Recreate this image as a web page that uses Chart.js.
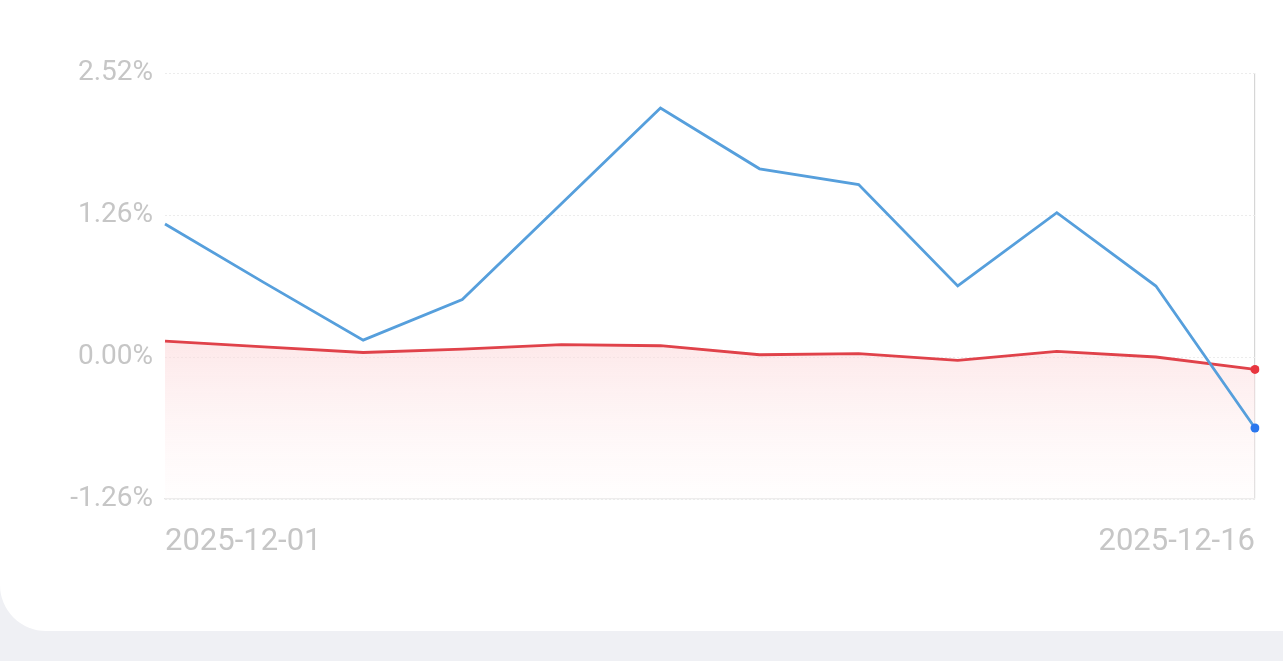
<!DOCTYPE html>
<html>
<head>
<meta charset="utf-8">
<script src="https://cdn.jsdelivr.net/npm/chart.js@4.4.1/dist/chart.umd.min.js"></script>
<style>
  html, body { margin: 0; padding: 0; background: #eff0f4; width: 1283px; height: 661px; overflow: hidden; }
  #card { position: absolute; left: 0; top: 0; width: 1283px; height: 631px; background: #ffffff; border-bottom-left-radius: 46px; }
  #wrap { position: absolute; left: 0; top: 0; width: 1283px; height: 631px; }
</style>
</head>
<body>
<div id="card"></div>
<div id="wrap"><canvas id="c" width="1283" height="631"></canvas></div>
<script>
const categories = ['2025-12-01','2025-12-02','2025-12-03','2025-12-04','2025-12-05','2025-12-08','2025-12-09','2025-12-10','2025-12-11','2025-12-12','2025-12-15','2025-12-16'];
const blueSeries = [1.18, 0.66, 0.15, 0.51, 1.36, 2.21, 1.67, 1.53, 0.63, 1.28, 0.63, -0.63];
const redSeries  = [0.14, 0.09, 0.04, 0.07, 0.11, 0.10, 0.02, 0.03, -0.03, 0.05, 0.00, -0.11];
const yTicks = [-1.26, 0, 1.26, 2.52];

const lastIdx = categories.length - 1;
const endRadius = categories.map((_, i) => i === lastIdx ? 4.5 : 0);

new Chart(document.getElementById('c'), {
  type: 'line',
  data: {
    labels: categories,
    datasets: [
      {
        label: 'blue',
        data: blueSeries,
        borderColor: '#569fdc',
        borderWidth: 2.8,
        pointRadius: endRadius,
        pointBackgroundColor: '#2a77ee',
        pointBorderWidth: 0,
        tension: 0,
        fill: false,
        order: 0
      },
      {
        label: 'red',
        data: redSeries,
        borderColor: '#e0424a',
        borderWidth: 2.8,
        pointRadius: endRadius,
        pointBackgroundColor: '#e8363f',
        pointBorderWidth: 0,
        tension: 0,
        fill: 'start',
        backgroundColor: (ctx) => {
          const ca = ctx.chart.chartArea;
          if (!ca) return 'rgba(250,220,220,0.4)';
          const g = ctx.chart.ctx.createLinearGradient(0, ca.top + (ca.bottom - ca.top) * 0.62, 0, ca.bottom);
          g.addColorStop(0, 'rgba(252,215,217,0.6)');
          g.addColorStop(1, 'rgba(255,250,250,0.3)');
          return g;
        },
        order: 1
      }
    ]
  },
  options: {
    responsive: false,
    animation: false,
    devicePixelRatio: 1,
    layout: { padding: { left: 0, right: 28, top: 73, bottom: 0 } },
    plugins: { legend: { display: false }, tooltip: { enabled: false } },
    scales: {
      x: {
        grid: {
          drawTicks: false,
          color: (ctx) => ctx.index === lastIdx ? '#d6d6d6' : 'rgba(0,0,0,0)',
          lineWidth: 1.2
        },
        border: { display: true, color: '#e6e6e6', width: 1.2 },
        ticks: {
          autoSkip: false,
          maxRotation: 0,
          align: 'inner',
          padding: 25,
          color: '#c6c6c6',
          font: { family: 'Roboto', size: 31 },
          callback: function (v, i) { return (i === 0 || i === lastIdx) ? categories[i] : ''; }
        },
        afterFit: (s) => { s.height = 132; }
      },
      y: {
        min: -1.26,
        max: 2.52,
        afterBuildTicks: (s) => { s.ticks = yTicks.map(v => ({ value: v })); },
        grid: {
          drawTicks: false,
          color: '#ececec',
          lineWidth: 1
        },
        border: { display: false, dash: [2, 2] },
        ticks: {
          padding: 12,
          color: '#c6c6c6',
          font: { family: 'Roboto', size: 28 },
          callback: (v) => v.toFixed(2) + '%'
        },
        afterFit: (s) => { s.width = 165; }
      }
    }
  }
});
</script>
</body>
</html>
